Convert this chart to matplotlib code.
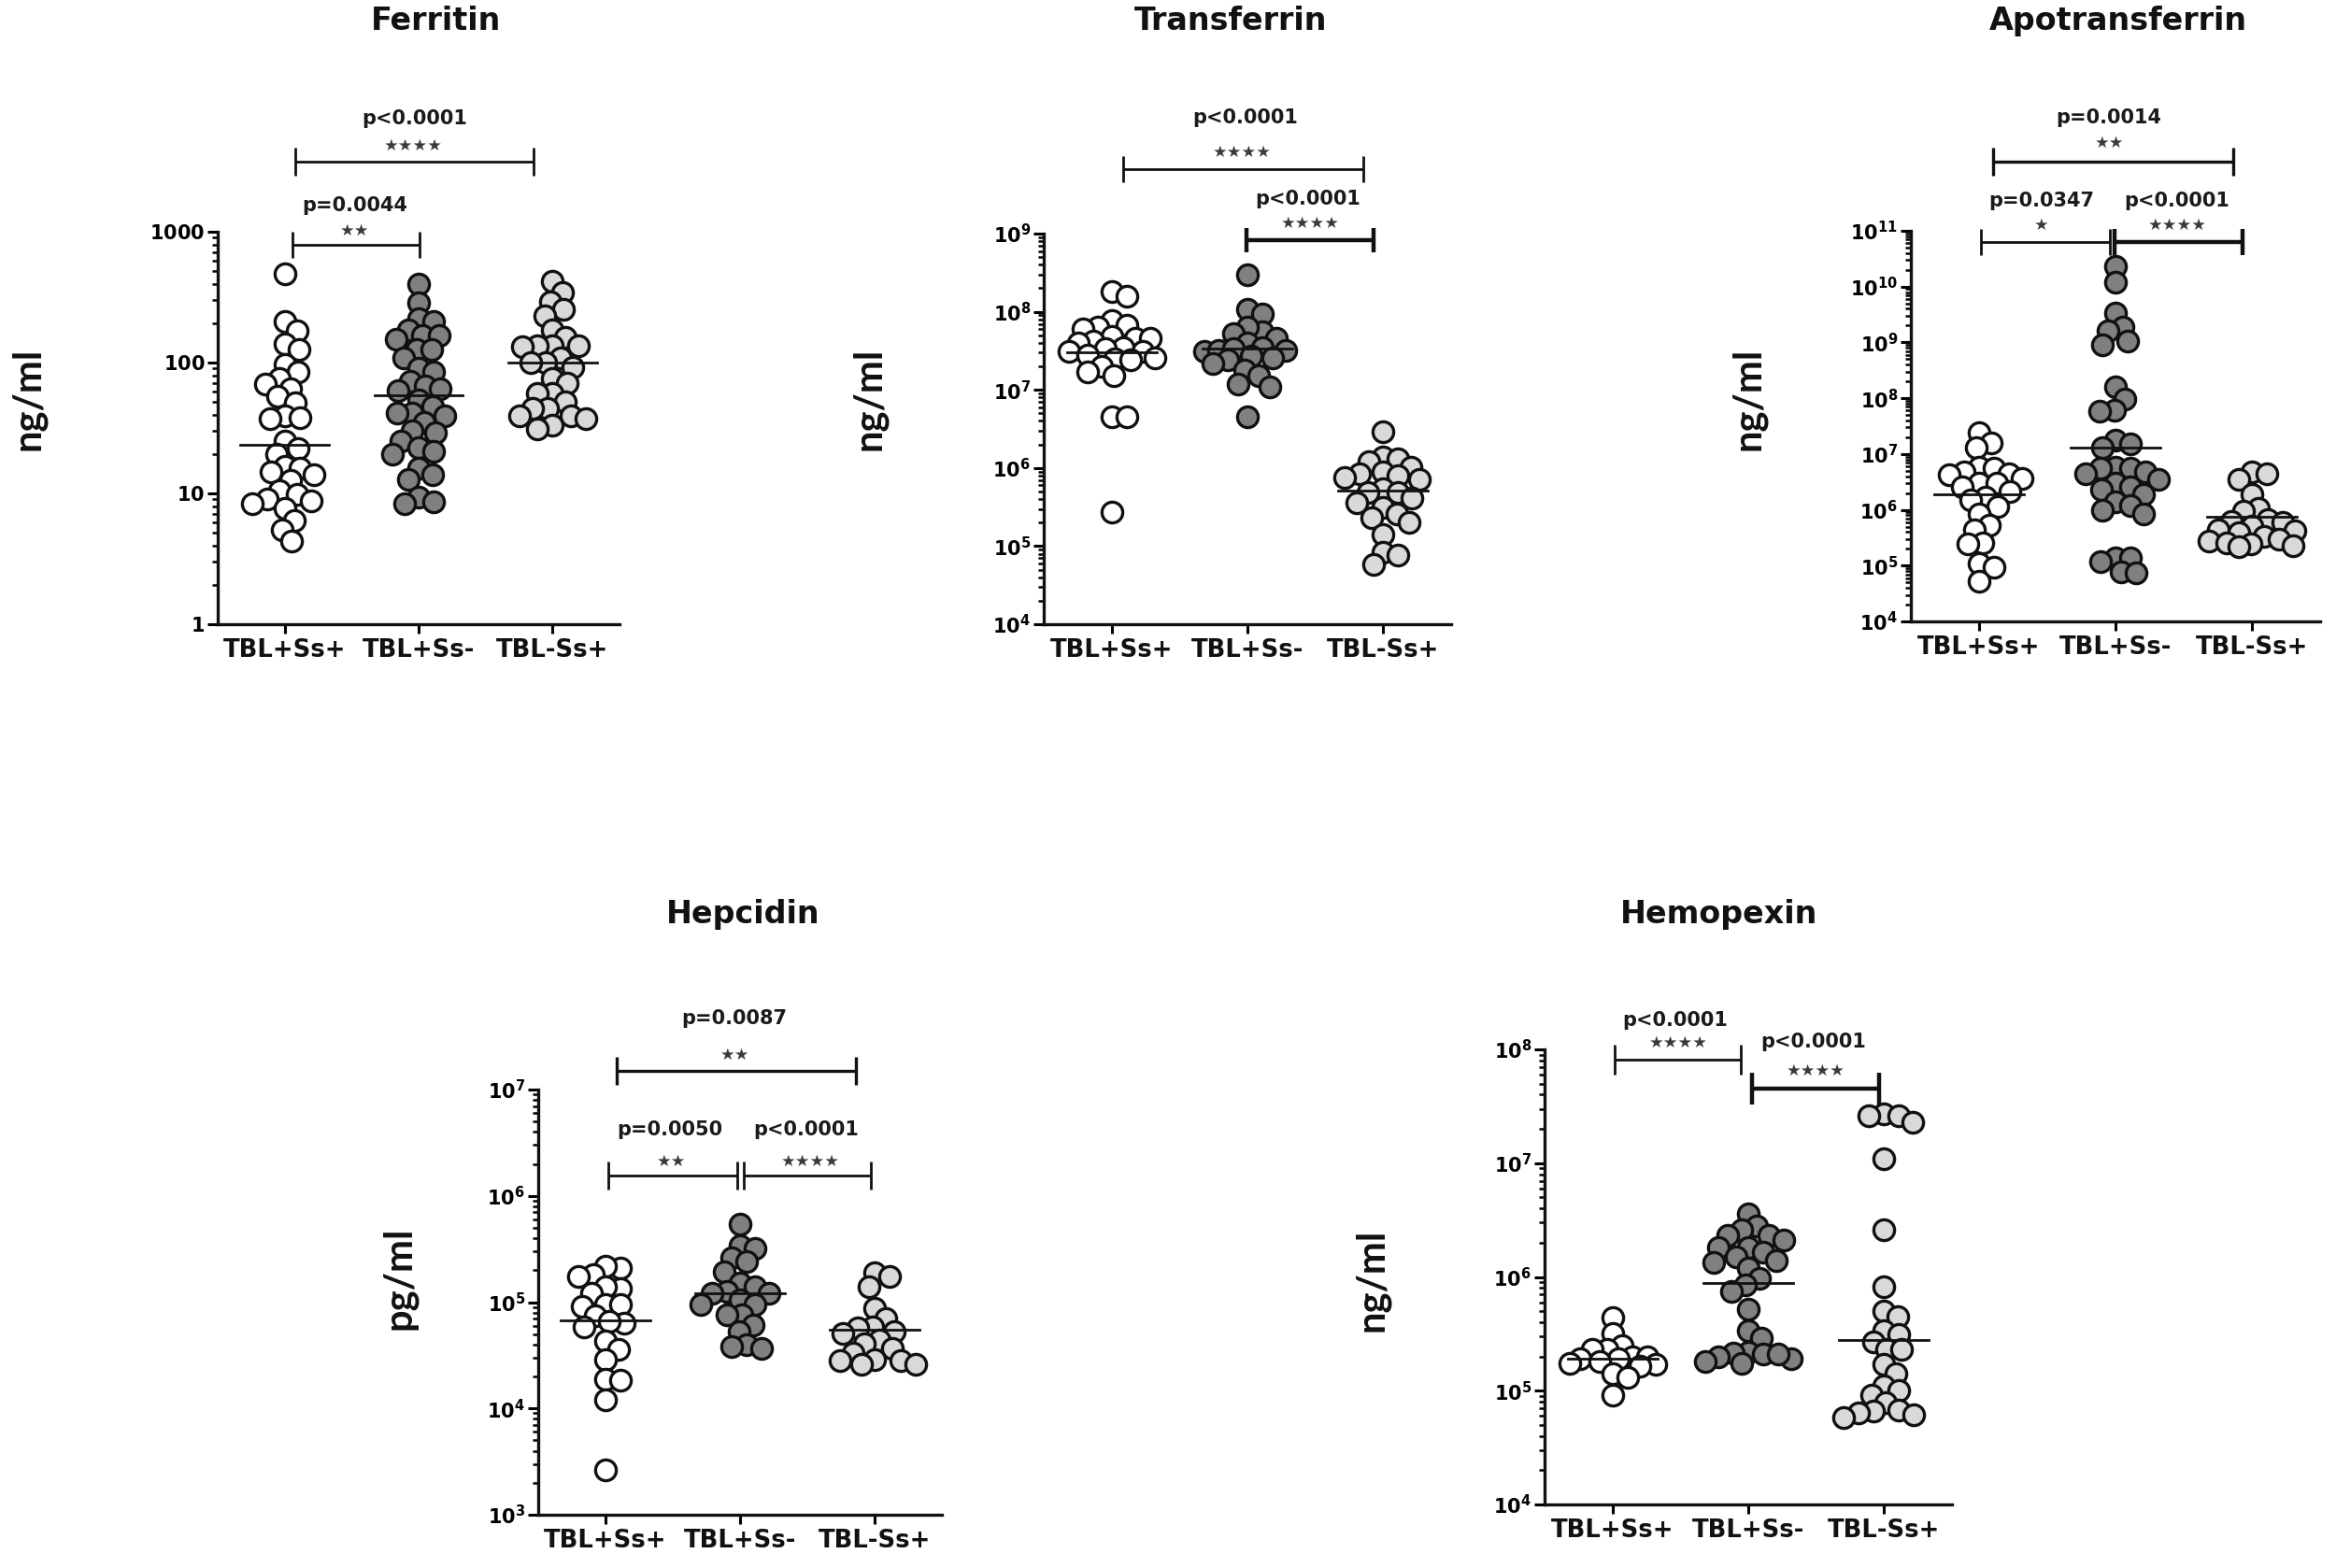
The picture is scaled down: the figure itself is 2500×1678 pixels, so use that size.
import numpy as np
import matplotlib
matplotlib.use("Agg")
import matplotlib.pyplot as plt
import matplotlib.transforms as mtransforms
from matplotlib.lines import Line2D
from matplotlib.ticker import LogLocator, FuncFormatter, NullFormatter

# ---------------- data ----------------
categories = ["TBL+Ss+", "TBL+Ss-", "TBL-Ss+"]

ferritin_pos_pos = [478, 205, 175, 140, 125, 97, 85, 76, 68, 63, 55, 49, 39, 38, 37, 25,
                    22, 20, 16, 15.5, 14.5, 14, 12.5, 10.5, 9.8, 9, 8.8, 8.4, 7.7, 6.2, 5.3, 4.3]
ferritin_pos_neg = [398, 285, 216, 205, 178, 160, 160, 150, 125, 125, 108, 90, 85, 72, 66, 63,
                    61, 52, 46, 41, 41, 39, 35, 30, 29, 25, 22.5, 21, 20, 15.5, 14, 12.7, 9.3, 8.6, 8.3]
ferritin_neg_pos = [420, 346, 293, 255, 229, 178, 155, 135, 135, 135, 132, 108, 100, 100, 92,
                    76, 70, 58, 58, 50, 45, 45, 39, 37, 39, 33, 31]
ferritin_median = [23.5, 56.6, 100]

transferrin_pos_pos = [1.83e8, 1.6e8, 7.7e7, 6.7e7, 6.4e7, 6.1e7, 4.8e7, 4.6e7, 4.6e7, 4.2e7,
                       4.0e7, 3.5e7, 3.4e7, 3.1e7, 3.1e7, 2.8e7, 2.6e7, 2.5e7, 2.4e7, 2.0e7,
                       1.7e7, 1.5e7, 4.5e6, 4.5e6, 2.7e5]
transferrin_pos_neg = [3.0e8, 1.06e8, 9.3e7, 5.6e7, 6.4e7, 4.6e7, 5.3e7, 4.0e7, 3.5e7, 3.2e7,
                       3.1e7, 3.2e7, 3.4e7, 2.6e7, 2.7e7, 2.4e7, 2.2e7, 1.8e7, 1.5e7, 1.2e7,
                       1.1e7, 4.5e6]
transferrin_neg_pos = [2.95e6, 1.4e6, 1.3e6, 1.2e6, 1.03e6, 8.9e5, 8.5e5, 7.9e5, 7.5e5, 7.1e5,
                       5.4e5, 4.9e5, 4.9e5, 4.1e5, 3.6e5, 3.1e5, 2.6e5, 2.3e5, 2.0e5, 1.4e5,
                       8.3e4, 7.7e4, 5.8e4]
transferrin_median = [3.0e7, 3.4e7, 5.2e5]

apotransferrin_pos_pos = [2.4e7, 1.6e7, 1.3e7, 5.7e6, 5.5e6, 4.8e6, 4.5e6, 4.2e6, 3.6e6, 3.0e6,
                          3.0e6, 2.6e6, 2.1e6, 1.7e6, 1.5e6, 1.15e6, 8.5e5, 5.3e5, 4.4e5, 2.6e5,
                          2.5e5, 1.08e5, 9.4e4, 5.3e4]
apotransferrin_pos_neg = [2.3e10, 1.2e10, 3.3e9, 1.9e9, 1.6e9, 1.05e9, 9.0e8, 1.6e8, 9.8e7,
                          6.2e7, 5.8e7, 1.8e7, 1.5e7, 1.3e7, 5.7e6, 5.5e6, 5.5e6, 4.8e6, 4.5e6,
                          3.5e6, 3.0e6, 2.6e6, 2.3e6, 1.9e6, 1.4e6, 1.2e6, 1.0e6, 8.5e5, 1.4e5,
                          1.4e5, 1.2e5, 7.8e4, 7.4e4]
apotransferrin_neg_pos = [4.8e6, 4.5e6, 3.5e6, 1.9e6, 1.08e6, 9.4e5, 6.6e5, 6.3e5, 5.9e5, 5.1e5,
                          4.4e5, 4.2e5, 3.9e5, 3.4e5, 3.0e5, 2.8e5, 2.6e5, 2.5e5, 2.3e5, 2.2e5]
apotransferrin_median = [1.9e6, 1.28e7, 7.4e5]

hepcidin_pos_pos = [2.1e5, 2.2e5, 1.8e5, 1.75e5, 1.35e5, 1.4e5, 1.2e5, 9.5e4, 9.2e4, 9.5e4,
                    7.4e4, 6.3e4, 5.9e4, 6.6e4, 4.3e4, 3.6e4, 2.9e4, 1.9e4, 1.85e4, 1.2e4, 2.65e3]
hepcidin_pos_neg = [5.4e5, 3.4e5, 3.2e5, 2.6e5, 2.4e5, 1.95e5, 1.5e5, 1.4e5, 1.25e5, 1.2e5,
                    1.2e5, 1.05e5, 9.5e4, 9.5e4, 7.6e4, 7.6e4, 6.1e4, 5.3e4, 4.0e4, 3.8e4, 3.7e4]
hepcidin_neg_pos = [1.9e5, 1.75e5, 1.4e5, 8.8e4, 7.0e4, 5.9e4, 5.7e4, 5.3e4, 5.1e4, 4.4e4,
                    4.1e4, 3.7e4, 3.3e4, 2.9e4, 2.8e4, 2.8e4, 2.6e4, 2.6e4]
hepcidin_median = [6.8e4, 1.22e5, 5.5e4]

hemopexin_pos_pos = [4.4e5, 3.2e5, 2.5e5, 2.3e5, 2.3e5, 2.0e5, 2.0e5, 1.9e5, 1.9e5, 1.8e5,
                     1.75e5, 1.7e5, 1.65e5, 1.4e5, 1.3e5, 9.1e4]
hemopexin_pos_neg = [3.6e6, 2.8e6, 2.6e6, 2.3e6, 2.3e6, 2.1e6, 1.8e6, 1.8e6, 1.65e6, 1.5e6,
                     1.4e6, 1.35e6, 1.2e6, 9.7e5, 8.5e5, 7.4e5, 5.2e5, 3.4e5, 2.9e5, 2.2e5,
                     2.15e5, 2.1e5, 2.0e5, 1.8e5, 1.75e5, 1.9e5, 2.1e5]
hemopexin_neg_pos = [2.7e7, 2.6e7, 2.6e7, 2.3e7, 1.1e7, 2.6e6, 8.2e5, 5.0e5, 4.5e5, 3.4e5,
                     3.1e5, 2.7e5, 2.3e5, 2.3e5, 1.7e5, 1.4e5, 1.1e5, 1.0e5, 9.1e4, 7.9e4,
                     6.8e4, 6.6e4, 6.4e4, 6.2e4, 5.8e4]
hemopexin_median = [1.9e5, 8.8e5, 2.8e5]

titles = ["Ferritin", "Transferrin", "Apotransferrin", "Hepcidin", "Hemopexin"]
units = ["ng/ml", "ng/ml", "ng/ml", "pg/ml", "ng/ml"]
ferritin_p = ["p<0.0001", "p=0.0044"]
ferritin_stars = ["****", "**"]
transferrin_p = ["p<0.0001", "p<0.0001"]
transferrin_stars = ["****", "****"]
apotransferrin_p = ["p=0.0014", "p=0.0347", "p<0.0001"]
apotransferrin_stars = ["**", "*", "****"]
hepcidin_p = ["p=0.0087", "p=0.0050", "p<0.0001"]
hepcidin_stars = ["**", "**", "****"]
hemopexin_p = ["p<0.0001", "p<0.0001"]
hemopexin_stars = ["****", "****"]

# ---------------- styling ----------------
W, H = 2500, 1678
DPI = 200
FILLS = ["#ffffff", "#808080", "#d9d9d9"]
EDGE = "#111111"
MS = 64
DMIN = 16.0   # px, preferred minimum centre distance in the swarm
MAXOFF = 46   # px, maximum half-width of a swarm

fig = plt.figure(figsize=(W / DPI, H / DPI), dpi=DPI)
fig.patch.set_facecolor("white")
PX = mtransforms.Affine2D().scale(1 / W, -1 / H).translate(0, 1) + fig.transFigure


def px_axes(l, t, r, b):
    return fig.add_axes([l / W, 1 - b / H, (r - l) / W, (b - t) / H])


def swarm_x(ax, xc, vals):
    T = ax.transData
    pts = T.transform(np.column_stack([np.full(len(vals), float(xc)), vals]))
    x0 = pts[0, 0]
    cands = np.array(sorted(range(-MAXOFF, MAXOFF + 1), key=lambda c: (abs(c), -c)), float)
    placed = []
    out = np.empty(len(vals))
    for i in np.argsort(-pts[:, 1]):
        y = pts[i, 1]
        if placed:
            P = np.array(placed)
            d = np.sqrt(((x0 + cands[:, None] - P[None, :, 0]) ** 2
                         + (y - P[None, :, 1]) ** 2).min(axis=1))
            ok = np.nonzero(d >= DMIN)[0]
            c = cands[ok[0]] if len(ok) else cands[np.argmax(d)]
        else:
            c = 0.0
        x = x0 + c
        placed.append((x, y))
        out[i] = x
    return T.inverted().transform(np.column_stack([out, pts[:, 1]]))[:, 0]


def bracket(x1, x2, y, h, lw=1.0):
    for xs, ys in [([x1, x2], [y, y]), ([x1, x1], [y - h, y + h]), ([x2, x2], [y - h, y + h])]:
        fig.add_artist(Line2D(xs, ys, transform=PX, color="#111111", lw=lw,
                              solid_capstyle="butt"))


def ptext(s, x, y):
    fig.text(x, y, s, transform=PX, ha="center", va="center", fontsize=7.5,
             fontweight="bold", color="#1a1a1a", family="DejaVu Sans")


def stars(s, x, y):
    fig.text(x, y, "\u2605" * len(s), transform=PX, ha="center", va="center",
             fontsize=6.3, color="#3a3a3a", family="DejaVu Sans")


def panel(box, title, title_xy, ylabel, ylabel_xy, ylim, groups, medians, plain=False):
    ax = px_axes(*box)
    ax.set_yscale("log")
    ax.set_ylim(*ylim)
    ax.set_xlim(-0.5, 2.5)
    for sp in ["top", "right"]:
        ax.spines[sp].set_visible(False)
    for sp in ["left", "bottom"]:
        ax.spines[sp].set_linewidth(1.2)
        ax.spines[sp].set_color("#111111")
    ax.set_xticks(range(len(categories)))
    ax.set_xticklabels(categories, fontsize=9.3, fontweight="bold", family="DejaVu Sans",
                       color="#111111")
    ax.yaxis.set_major_locator(LogLocator(base=10, numticks=30))
    ax.yaxis.set_minor_locator(LogLocator(base=10, subs=np.arange(2, 10), numticks=200))
    ax.yaxis.set_minor_formatter(NullFormatter())
    if plain:
        fmt = FuncFormatter(lambda v, p: r"$\mathbf{%d}$" % round(v))
    else:
        fmt = FuncFormatter(lambda v, p: r"$\mathbf{10^{%d}}$" % round(np.log10(v)))
    ax.yaxis.set_major_formatter(fmt)
    ax.tick_params(axis="y", which="major", length=4, width=1.1, labelsize=7.5, pad=1)
    ax.tick_params(axis="y", which="minor", length=2.2, width=0.9)
    ax.tick_params(axis="x", which="major", length=3.5, width=1.1, pad=2)
    for i, (vals, col) in enumerate(zip(groups, FILLS)):
        xs = swarm_x(ax, i, vals)
        ax.scatter(xs, vals, s=MS, facecolor=col, edgecolor=EDGE, linewidths=1.2,
                   zorder=3, clip_on=False)
        ax.plot([i - 0.33, i + 0.33], [medians[i]] * 2, color="#111111", lw=1.0, zorder=4)
    fig.text(title_xy[0], title_xy[1], title, transform=PX, ha="center", va="baseline",
             fontsize=12, fontweight="bold", family="DejaVu Sans", color="#111111")
    fig.text(ylabel_xy[0], ylabel_xy[1], ylabel, transform=PX, ha="center", va="center",
             rotation=90, fontsize=15, fontweight="bold", family="Lato", color="#111111")
    return ax


# Ferritin
panel((233, 248, 663, 668), titles[0], (467, 32), units[0], (30, 427), (1, 1000),
      [ferritin_pos_pos, ferritin_pos_neg, ferritin_neg_pos], ferritin_median, plain=True)
bracket(316, 571, 173, 15)
bracket(313, 449, 262, 14)
ptext(ferritin_p[0], 444, 127); stars(ferritin_stars[0], 442, 156)
ptext(ferritin_p[1], 380, 220); stars(ferritin_stars[1], 380, 247)

# Transferrin
panel((1117, 250, 1553, 668), titles[1], (1317, 32), units[1], (930, 427), (1e4, 1e9),
      [transferrin_pos_pos, transferrin_pos_neg, transferrin_neg_pos], transferrin_median)
bracket(1202, 1459, 181, 14)
bracket(1334, 1470, 257, 13, lw=1.6)
ptext(transferrin_p[0], 1333, 126); stars(transferrin_stars[0], 1329, 163)
ptext(transferrin_p[1], 1400, 213); stars(transferrin_stars[1], 1402, 239)

# Apotransferrin
panel((2045, 247, 2483, 665), titles[2], (2267, 32), units[2], (1871, 427), (1e4, 1e11),
      [apotransferrin_pos_pos, apotransferrin_pos_neg, apotransferrin_neg_pos],
      apotransferrin_median)
bracket(2133, 2390, 173, 15, lw=1.2)
bracket(2120, 2258, 259, 14)
bracket(2263, 2400, 259, 14, lw=1.6)
ptext(apotransferrin_p[0], 2257, 126); stars(apotransferrin_stars[0], 2258, 153)
ptext(apotransferrin_p[1], 2185, 215); stars(apotransferrin_stars[1], 2185, 241)
ptext(apotransferrin_p[2], 2330, 215); stars(apotransferrin_stars[2], 2330, 241)

# Hepcidin
panel((576, 1166, 1008, 1621), titles[3], (795, 988), units[3], (427, 1368), (1e3, 1e7),
      [hepcidin_pos_pos, hepcidin_pos_neg, hepcidin_neg_pos], hepcidin_median)
bracket(660, 916, 1146, 15, lw=1.2)
bracket(651, 789, 1258, 15)
bracket(796, 932, 1258, 15)
ptext(hepcidin_p[0], 786, 1090); stars(hepcidin_stars[0], 787, 1129)
ptext(hepcidin_p[1], 717, 1209); stars(hepcidin_stars[1], 719, 1243)
ptext(hepcidin_p[2], 863, 1209); stars(hepcidin_stars[2], 867, 1243)

# Hemopexin
panel((1653, 1123, 2089, 1610), titles[4], (1840, 988), units[4], (1468, 1370), (1e4, 1e8),
      [hemopexin_pos_pos, hemopexin_pos_neg, hemopexin_neg_pos], hemopexin_median)
bracket(1728, 1863, 1134, 16)
bracket(1875, 2011, 1165, 17, lw=1.6)
ptext(hemopexin_p[0], 1793, 1092); stars(hemopexin_stars[0], 1796, 1116)
ptext(hemopexin_p[1], 1941, 1115); stars(hemopexin_stars[1], 1943, 1146)

fig.savefig("out.png", dpi=DPI, facecolor="white")
